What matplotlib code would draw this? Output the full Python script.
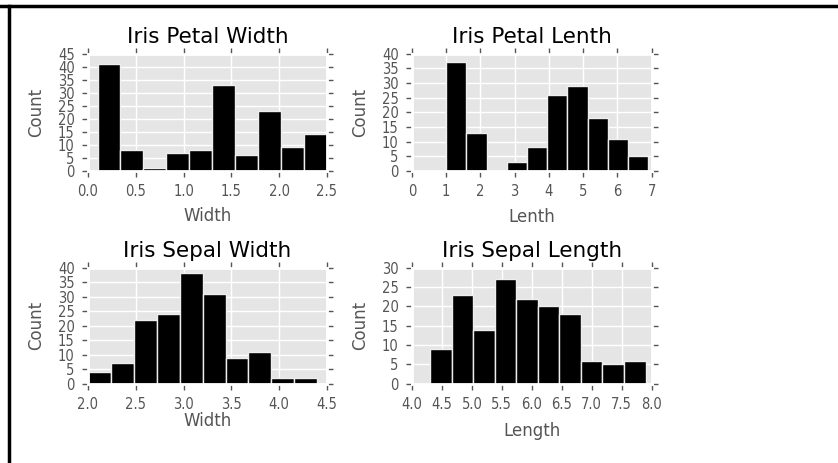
import numpy as np
import matplotlib
matplotlib.use("Agg")
import matplotlib.pyplot as plt
from matplotlib.lines import Line2D
from matplotlib.ticker import FormatStrFormatter

plt.style.use("ggplot")

# iris histograms, 10 bins each (range low/high + counts)
petal_width_range = (0.1, 2.5)
petal_width_counts = [41, 8, 1, 7, 8, 33, 6, 23, 9, 14]

petal_length_range = (1.0, 6.9)
petal_length_counts = [37, 13, 0, 3, 8, 26, 29, 18, 11, 5]

sepal_width_range = (2.0, 4.4)
sepal_width_counts = [4, 7, 22, 24, 38, 31, 9, 11, 2, 2]

sepal_length_range = (4.3, 7.9)
sepal_length_counts = [9, 23, 14, 27, 22, 20, 18, 6, 5, 6]

titles = ["Iris Petal Width", "Iris Petal Lenth", "Iris Sepal Width", "Iris Sepal Length"]
xlabels = ["Width", "Lenth", "Width", "Length"]
xlims = [(0, 2.5), (0, 7), (2.0, 4.5), (4.0, 8.0)]
xsteps = [0.5, 1, 0.5, 0.5]
ylims = [45, 40, 40, 30]

ranges = [petal_width_range, petal_length_range, sepal_width_range, sepal_length_range]
counts = [petal_width_counts, petal_length_counts, sepal_width_counts, sepal_length_counts]

fig = plt.figure(figsize=(8.38, 4.63), dpi=100)
fig.patch.set_facecolor("white")

boxes = [
    [0.105, 0.631, 0.285, 0.253],
    [0.4916, 0.631, 0.286, 0.253],
    [0.105, 0.171, 0.285, 0.251],
    [0.4916, 0.171, 0.286, 0.251],
]
xlabel_y = [-0.31, -0.315, -0.24, -0.325]

tick_font = {"family": "DejaVu Sans", "stretch": "condensed", "size": 10.5}

for i in range(4):
    ax = fig.add_axes(boxes[i])
    lo, hi = ranges[i]
    edges = np.linspace(lo, hi, len(counts[i]) + 1)
    ax.bar(edges[:-1], counts[i], width=np.diff(edges), align="edge",
           color="black", edgecolor="#EEEEEE", linewidth=1)
    ax.set_facecolor("#E5E5E5")
    ax.grid(True, color="white", linestyle="-", linewidth=1)
    ax.set_axisbelow(True)
    for s in ax.spines.values():
        s.set_color("white")
        s.set_linewidth(2)
    ax.set_xlim(*xlims[i])
    ax.set_ylim(0, ylims[i])
    ax.set_xticks(np.arange(xlims[i][0], xlims[i][1] + 1e-9, xsteps[i]))
    ax.set_yticks(np.arange(0, ylims[i] + 1, 5))
    if xsteps[i] == 1:
        ax.xaxis.set_major_formatter(FormatStrFormatter("%d"))
    else:
        ax.xaxis.set_major_formatter(FormatStrFormatter("%.1f"))
    ax.tick_params(direction="out", colors="#555555", top=True, right=True,
                   length=4.5, width=1, pad=5)
    for lab in ax.get_xticklabels() + ax.get_yticklabels():
        lab.set_fontproperties(tick_font)
    ax.set_title(titles[i], fontsize=15.5, color="black", pad=8)
    ax.set_xlabel(xlabels[i], fontsize=12, color="#555555", va="top")
    ax.xaxis.set_label_coords(0.5, xlabel_y[i])
    ax.set_ylabel("Count", fontsize=12, color="#555555")
    ax.yaxis.set_label_coords(-0.18, 0.5)

# black frame of the screenshot
fig.add_artist(Line2D([0, 1], [1 - 6 / 463, 1 - 6 / 463], color="black", linewidth=2.5,
                      transform=fig.transFigure))
fig.add_artist(Line2D([8.5 / 838, 8.5 / 838], [0, 1 - 6 / 463], color="black", linewidth=2.5,
                      transform=fig.transFigure))

fig.savefig("out.png", dpi=100)
